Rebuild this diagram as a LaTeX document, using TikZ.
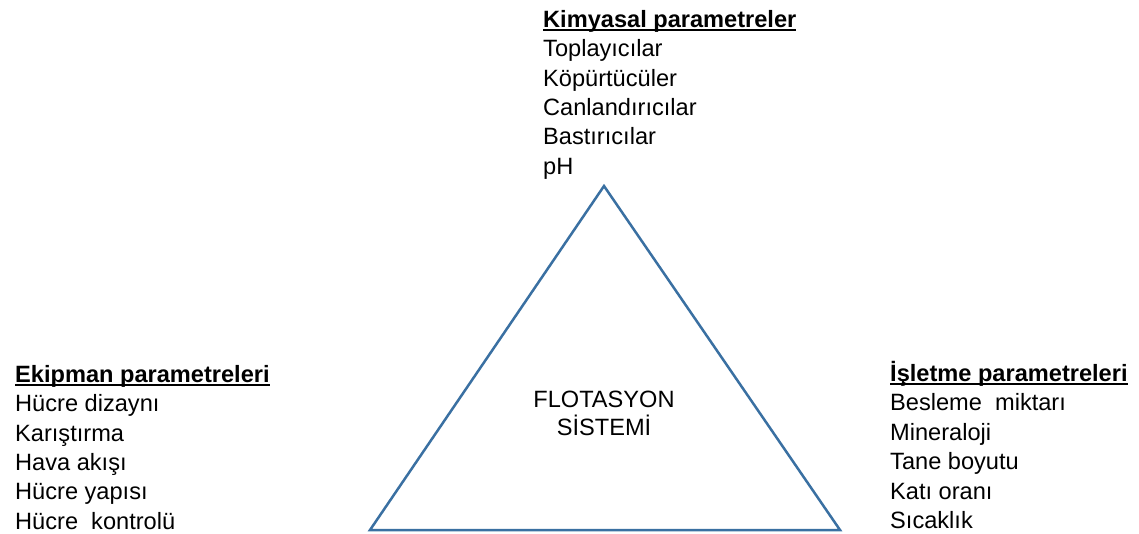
\documentclass[tikz,border=0pt]{standalone}
\usepackage{fontspec}
\setmainfont{Liberation Sans}
\usetikzlibrary{positioning}
\definecolor{triblue}{HTML}{3A70A2}
% bold heading with a thick underline
\newcommand{\headul}[1]{\setbox0\hbox{\textbf{#1}}\rlap{\rule[-3.8pt]{\wd0}{1.8pt}}\box0}

\begin{document}
\begin{tikzpicture}[x=1pt, y=-1pt,
  paramlist/.style={align=left, inner sep=0pt, anchor=north west,
    font=\fontsize{23.6}{29.4}\selectfont},
  centertext/.style={align=center, inner sep=0pt,
    font=\fontsize{23.6}{28}\selectfont}]
  \useasboundingbox (0,0) rectangle (1139,534);
  % triangle
  \coordinate (apex) at (604,186);
  \coordinate (botleft) at (370,530);
  \coordinate (botright) at (840,530);
  \draw[triblue, line width=2.5pt, line join=miter, fill=white]
    (apex) -- (botleft) -- (botright) -- cycle;
  % system name
  \node[centertext] (system) at (604,413) {FLOTASYON\\SİSTEMİ};
  % parameter groups
  \node[paramlist] (chem) at (543,10) {\headul{Kimyasal parametreler}\\
    Toplayıcılar\\ Köpürtücüler\\ Canlandırıcılar\\ Bastırıcılar\\ pH};
  \node[paramlist] (equip) at (15,365) {\headul{Ekipman parametreleri}\\
    Hücre dizaynı\\ Karıştırma\\ Hava akışı\\ Hücre yapısı\\ Hücre\ \ kontrolü};
  \node[paramlist] (oper) at (890,361) {\headul{İşletme parametreleri}\\
    Besleme\ \ miktarı\\ Mineraloji\\ Tane boyutu\\ Katı oranı\\ Sıcaklık};
\end{tikzpicture}
\end{document}
